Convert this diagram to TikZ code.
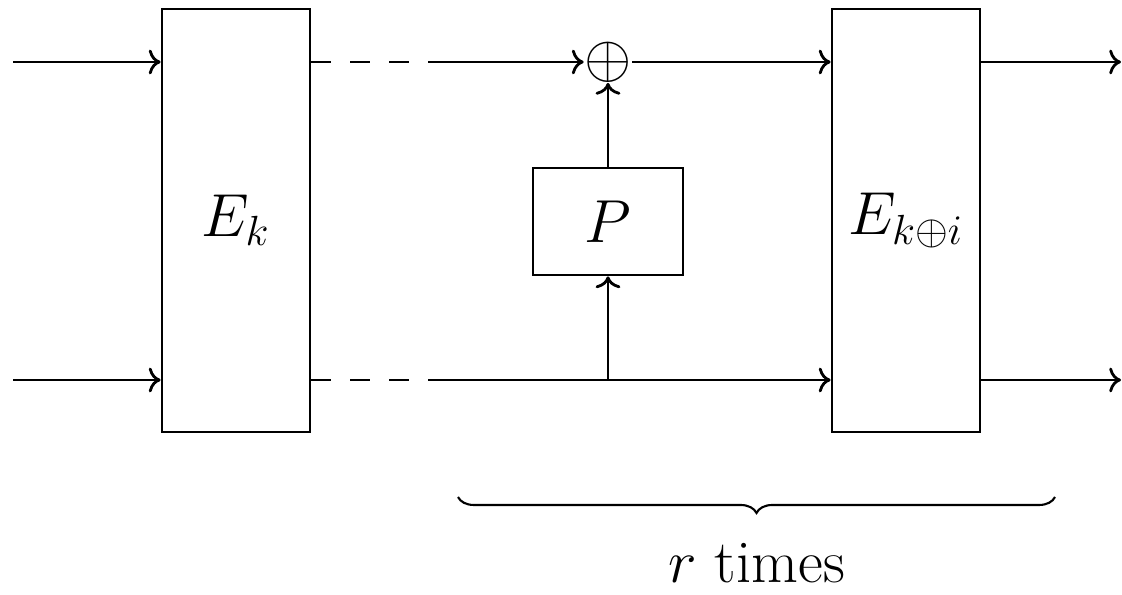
\documentclass[tikz,border=0pt]{standalone}
\usepackage{amsmath,amssymb}
\usepackage{tikz}
\usetikzlibrary{arrows.meta, positioning, calc, decorations.pathreplacing}

\tikzset{
  block/.style={draw, thick, minimum width=1.48cm, minimum height=4.23cm, font=\LARGE},
  pbox/.style={draw, thick, minimum width=1.5cm, minimum height=1.07cm, font=\LARGE},
  xorsum/.style={inner sep=0pt, font=\fontsize{18.5}{22}\selectfont},
  wire/.style={thick, ->},
  gapwire/.style={thick, dash pattern=on 0.2cm off 0.19cm}
}

\begin{document}
\begin{tikzpicture}
  \useasboundingbox (0,0) rectangle (11.22,5.95);
  % blocks
  \node[block] (Ek) at (2.36,3.745) {$E_k$};
  \node[block] (Eki) at (9.06,3.745) {$E_{k\oplus i}$};
  \node[pbox] (P) at (6.08,3.735) {$P$};
  \node[xorsum] (xor) at (6.08,5.33) {$\oplus$};
  % free ends
  \coordinate (in1) at (0.13,5.33); \coordinate (in2) at (0.13,2.15);
  \coordinate (d1) at (4.28,5.33); \coordinate (d2) at (4.28,2.15);
  \coordinate (j) at (6.08,2.15);
  \coordinate (out1) at (11.21,5.33); \coordinate (out2) at (11.21,2.15);
  % wires
  \draw[wire] (in1) -- (in1 -| Ek.west);
  \draw[wire] (in2) -- (in2 -| Ek.west);
  \draw[gapwire] (d1 -| Ek.east) -- (d1);
  \draw[gapwire] (d2 -| Ek.east) -- (d2);
  \draw[wire] (d1) -- (xor);
  \draw[wire] (xor) -- (xor -| Eki.west);
  \draw[wire] (d2) -- (d2 -| Eki.west);
  \draw[wire] (j) -- (P.south);
  \draw[wire] (P.north) -- (xor);
  \draw[wire] (out1 -| Eki.east) -- (out1);
  \draw[wire] (out2 -| Eki.east) -- (out2);
  % brace
  \draw[semithick, decorate, decoration={brace, mirror, amplitude=0.16cm}] (4.58,0.98) -- (10.55,0.98);
  \node[anchor=base, inner sep=0pt, font=\LARGE] (rounds) at (7.565,0.12) {$r$ times};
\end{tikzpicture}
\end{document}
